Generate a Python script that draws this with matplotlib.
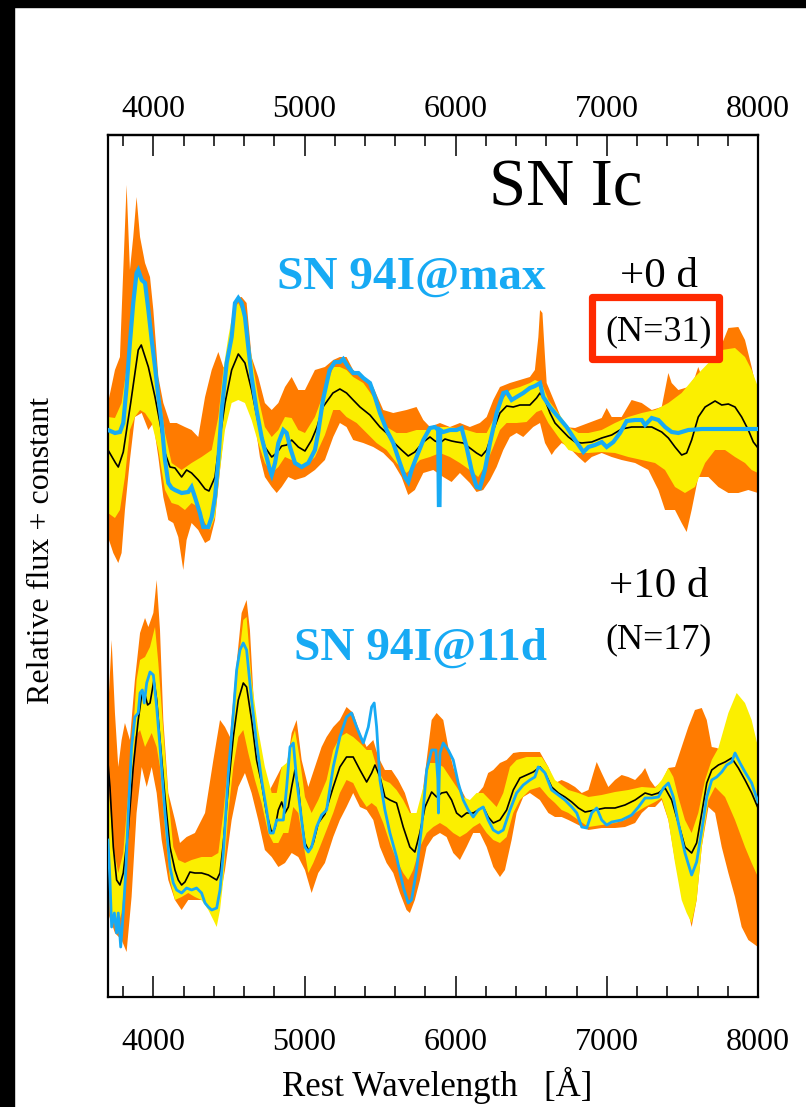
import numpy as np
import matplotlib
matplotlib.use("Agg")
import matplotlib.pyplot as plt
from matplotlib.patches import Rectangle
from matplotlib.ticker import MultipleLocator

plt.rcParams['font.family'] = ['Liberation Serif', 'DejaVu Serif']

# ---------------- data (wavelength [A], relative flux) ----------------
WAVE_RANGE = (3700, 8000)
TICK_VALUES = [4000, 5000, 6000, 7000, 8000]

# ---- +0 d panel ----
TOP_MEAN = [(3700,-0.20),(3750,-0.33),(3768,-0.37),(3801,-0.22),(3850,0.27),(3900,0.80),(3920,0.85),
 (3967,0.63),(4011,0.33),(4044,0.07),(4077,-0.23),(4110,-0.37),(4143,-0.38),(4187,-0.47),(4220,-0.40),
 (4253,-0.43),(4297,-0.50),(4342,-0.59),(4368,-0.61),(4408,-0.47),(4441,-0.07),(4474,0.27),(4518,0.60),
 (4562,0.76),(4606,0.67),(4650,0.40),(4694,0.07),(4738,-0.17),(4783,-0.27),(4816,-0.23),(4849,-0.16),
 (4882,-0.15),(4915,-0.10),(4959,-0.17),(5003,-0.21),(5047,-0.10),(5083,0.03),(5122,0.23),(5188,0.37),
 (5234,0.41),(5278,0.37),(5322,0.30),(5367,0.23),(5433,0.15),(5499,0.03),(5543,-0.03),(5587,-0.12),
 (5642,-0.20),(5686,-0.26),(5730,-0.22),(5786,-0.12),(5830,-0.07),(5863,-0.11),(5896,-0.13),(5929,-0.09),
 (5973,-0.11),(6006,-0.12),(6050,-0.13),(6094,-0.18),(6138,-0.23),(6171,-0.26),(6205,-0.20),(6249,0.00),
 (6293,0.17),(6337,0.24),(6381,0.23),(6425,0.25),(6491,0.25),(6535,0.32),(6558,0.37),(6591,0.30),
 (6624,0.17),(6657,0.07),(6701,0.00),(6746,-0.07),(6790,-0.12),(6834,-0.13),(6900,-0.12),(6966,-0.08),
 (7032,-0.05),(7098,0.01),(7164,0.03),(7231,0.03),(7297,0.03),(7363,-0.02),(7407,-0.08),(7451,-0.17),
 (7495,-0.25),(7528,-0.23),(7561,-0.10),(7605,0.13),(7650,0.23),(7716,0.29),(7760,0.25),(7804,0.26),
 (7848,0.23),(7892,0.13),(7936,0.00),(7969,-0.12),(8000,-0.18)]

TOP_SN94I = [(3700,0.00),(3746,-0.03),(3779,-0.02),(3801,0.07),(3823,0.43),(3845,0.87),(3867,1.27),
 (3889,1.57),(3900,1.60),(3923,1.50),(3945,1.47),(3967,1.20),(3989,0.90),(4011,0.63),(4033,0.33),
 (4055,0.07),(4077,-0.30),(4099,-0.53),(4121,-0.58),(4143,-0.60),(4187,-0.63),(4231,-0.62),(4253,-0.57),
 (4275,-0.67),(4308,-0.83),(4330,-0.97),(4364,-0.97),(4386,-0.87),(4408,-0.67),(4430,-0.30),(4452,0.20),
 (4485,0.67),(4518,0.93),(4540,1.27),(4562,1.32),(4584,1.27),(4606,1.13),(4628,0.83),(4650,0.53),
 (4683,0.20),(4716,-0.07),(4749,-0.27),(4771,-0.40),(4783,-0.45),(4805,-0.33),(4827,-0.13),(4860,0.00),
 (4882,-0.03),(4904,-0.17),(4937,-0.33),(4981,-0.37),(5025,-0.33),(5069,-0.20),(5090,-0.03),(5122,0.30),
 (5166,0.60),(5201,0.68),(5234,0.68),(5256,0.71),(5289,0.63),(5322,0.57),(5356,0.57),(5389,0.52),
 (5433,0.47),(5466,0.33),(5499,0.17),(5543,0.00),(5587,-0.13),(5631,-0.33),(5664,-0.47),(5686,-0.52),
 (5708,-0.40),(5741,-0.27),(5786,-0.10),(5830,0.02),(5863,0.03),(5884,0.00),(5889,-0.75),(5893,-0.75),
 (5898,0.00),(5918,-0.02),(5962,0.00),(6006,0.00),(6039,0.02),(6072,-0.17),(6105,-0.40),(6138,-0.57),
 (6160,-0.58),(6193,-0.40),(6227,-0.13),(6271,0.17),(6315,0.37),(6337,0.38),(6370,0.30),(6403,0.33),
 (6447,0.37),(6491,0.42),(6525,0.44),(6558,0.47),(6580,0.33),(6624,0.23),(6679,0.13),(6734,0.03),
 (6790,-0.10),(6845,-0.22),(6878,-0.17),(6922,-0.15),(6966,-0.12),(6999,-0.17),(7043,-0.12),(7087,-0.03),
 (7131,0.09),(7187,0.10),(7231,0.10),(7253,0.05),(7297,0.12),(7341,0.10),(7385,0.03),(7429,-0.02),
 (7473,-0.03),(7539,0.00),(7628,0.01),(8000,0.01)]

TOP_INNER_HI = [(3700,0.13),(3746,0.12),(3790,0.27),(3834,0.73),(3867,1.27),(3889,1.53),(3912,1.60),
 (3945,1.40),(3978,1.03),(4011,0.73),(4044,0.33),(4077,-0.03),(4121,-0.33),(4187,-0.40),(4253,-0.33),
 (4319,-0.27),(4386,-0.20),(4430,0.13),(4463,0.60),(4496,0.93),(4529,1.20),(4562,1.27),(4606,1.13),
 (4650,0.73),(4694,0.33),(4738,0.03),(4783,-0.07),(4827,0.00),(4871,0.13),(4915,0.12),(4959,0.00),
 (5003,-0.03),(5069,0.13),(5135,0.40),(5190,0.63),(5234,0.63),(5278,0.60),(5322,0.53),(5389,0.47),
 (5455,0.33),(5499,0.13),(5543,0.03),(5609,-0.03),(5675,-0.03),(5741,0.00),(5808,0.00),(5874,0.03),
 (5940,0.03),(6006,0.02),(6072,0.00),(6138,-0.03),(6205,-0.03),(6249,0.10),(6293,0.27),(6359,0.40),
 (6425,0.43),(6491,0.47),(6525,0.50),(6569,0.47),(6613,0.30),(6679,0.17),(6746,0.03),(6812,-0.03),
 (6878,-0.03),(6966,0.00),(7054,0.07),(7142,0.13),(7231,0.17),(7319,0.20),(7407,0.27),(7495,0.37),
 (7583,0.53),(7672,0.67),(7760,0.80),(7848,0.82),(7914,0.73),(7958,0.60),(8000,0.43)]

TOP_INNER_LO = [(3700,-0.83),(3746,-0.88),(3779,-0.80),(3812,-0.47),(3845,0.00),(3878,0.13),(3912,0.20),
 (3945,0.17),(3989,0.07),(4033,-0.20),(4077,-0.60),(4121,-0.73),(4165,-0.75),(4209,-0.80),(4253,-0.73),
 (4297,-0.77),(4342,-0.93),(4375,-1.00),(4408,-0.87),(4441,-0.40),(4474,0.00),(4518,0.27),(4562,0.30),
 (4606,0.27),(4650,0.10),(4694,-0.13),(4738,-0.33),(4783,-0.43),(4827,-0.37),(4871,-0.27),(4915,-0.30),
 (4959,-0.37),(5003,-0.37),(5069,-0.27),(5135,-0.05),(5190,0.20),(5234,0.20),(5278,0.13),(5345,0.07),
 (5411,-0.03),(5477,-0.13),(5543,-0.20),(5609,-0.33),(5675,-0.43),(5719,-0.37),(5764,-0.30),(5830,-0.27),
 (5896,-0.23),(5962,-0.27),(6028,-0.33),(6094,-0.40),(6149,-0.47),(6205,-0.33),(6249,-0.17),(6293,0.00),
 (6337,0.07),(6403,0.07),(6469,0.08),(6535,0.18),(6569,0.20),(6613,0.07),(6679,-0.07),(6746,-0.20),
 (6812,-0.23),(6878,-0.23),(6966,-0.22),(7054,-0.23),(7142,-0.27),(7231,-0.30),(7319,-0.33),(7385,-0.40),
 (7451,-0.57),(7517,-0.63),(7583,-0.57),(7650,-0.33),(7716,-0.20),(7782,-0.20),(7848,-0.27),(7914,-0.33),
 (7958,-0.40),(8000,-0.43)]

TOP_OUTER_HI = [(3700,0.27),(3746,0.60),(3779,0.73),(3801,1.60),(3823,2.45),(3845,1.60),(3867,1.93),
 (3889,2.33),(3912,1.93),(3945,1.67),(3978,1.53),(4000,1.20),(4033,0.53),(4066,0.27),(4110,0.07),
 (4154,0.07),(4209,0.03),(4253,0.00),(4297,-0.07),(4342,0.33),(4386,0.60),(4430,0.78),(4463,0.63),
 (4496,0.60),(4518,0.97),(4551,1.32),(4584,1.33),(4617,1.27),(4650,0.73),(4694,0.53),(4738,0.27),
 (4783,0.20),(4827,0.27),(4871,0.43),(4915,0.53),(4959,0.40),(5003,0.40),(5069,0.60),(5135,0.63),
 (5190,0.70),(5234,0.73),(5278,0.73),(5322,0.60),(5389,0.53),(5455,0.43),(5521,0.20),(5587,0.17),
 (5675,0.20),(5741,0.23),(5786,0.10),(5830,0.03),(5896,0.07),(5962,0.03),(6028,0.07),(6094,0.03),
 (6160,0.07),(6205,0.13),(6249,0.30),(6293,0.43),(6359,0.47),(6425,0.50),(6491,0.53),(6524,0.60),
 (6547,0.93),(6558,1.20),(6574,1.17),(6591,0.73),(6602,0.47),(6657,0.27),(6723,0.03),(6790,0.02),
 (6878,0.07),(6966,0.12),(6999,0.22),(7032,0.13),(7098,0.13),(7164,0.30),(7231,0.27),(7297,0.20),
 (7363,0.23),(7407,0.57),(7429,0.47),(7473,0.40),(7539,0.43),(7583,0.53),(7605,0.63),(7628,0.53),
 (7672,0.53),(7738,0.77),(7804,1.02),(7870,1.03),(7914,0.90),(7958,0.63),(8000,0.33)]

TOP_OUTER_LO = [(3700,-1.07),(3735,-1.23),(3768,-1.33),(3790,-1.23),(3812,-0.80),(3845,-0.30),(3878,0.13),
 (3923,0.17),(3967,0.00),(4000,0.07),(4033,-0.27),(4066,-0.67),(4099,-0.90),(4132,-0.93),(4165,-1.07),
 (4198,-1.40),(4220,-1.10),(4253,-0.93),(4297,-1.00),(4342,-1.13),(4375,-1.10),(4408,-0.90),(4441,-0.40),
 (4474,0.07),(4507,0.30),(4540,0.33),(4584,0.30),(4628,0.27),(4672,0.07),(4705,-0.27),(4738,-0.47),
 (4783,-0.57),(4816,-0.63),(4849,-0.57),(4893,-0.47),(4937,-0.50),(5003,-0.47),(5069,-0.40),(5135,-0.30),
 (5190,-0.07),(5234,0.07),(5278,0.03),(5322,-0.10),(5389,-0.13),(5455,-0.17),(5521,-0.23),(5587,-0.33),
 (5642,-0.47),(5686,-0.65),(5730,-0.60),(5786,-0.43),(5852,-0.40),(5918,-0.47),(5973,-0.52),(6028,-0.43),
 (6094,-0.53),(6138,-0.62),(6182,-0.60),(6227,-0.50),(6271,-0.37),(6315,-0.20),(6359,-0.07),(6403,-0.03),
 (6447,-0.07),(6513,0.03),(6558,0.07),(6591,-0.13),(6635,-0.25),(6657,-0.20),(6701,-0.13),(6746,-0.17),
 (6812,-0.27),(6856,-0.33),(6900,-0.27),(6966,-0.23),(7032,-0.27),(7098,-0.30),(7187,-0.33),(7275,-0.40),
 (7341,-0.60),(7385,-0.80),(7451,-0.80),(7495,-0.93),(7528,-1.02),(7561,-0.80),(7605,-0.47),(7672,-0.47),
 (7738,-0.57),(7804,-0.63),(7870,-0.63),(7936,-0.60),(8000,-0.63)]

# ---- +10 d panel ----
BOT_MEAN = [(3700,0.27),(3713,0.03),(3735,-0.57),(3757,-0.90),(3779,-0.95),(3801,-0.83),(3834,-0.40),
 (3867,0.23),(3900,0.70),(3923,0.95),(3945,0.95),(3962,0.85),(3978,0.87),(4004,1.10),(4022,0.90),
 (4044,0.50),(4077,-0.07),(4110,-0.57),(4143,-0.80),(4165,-0.90),(4187,-0.95),(4209,-0.92),(4242,-0.82),
 (4275,-0.83),(4319,-0.83),(4364,-0.85),(4397,-0.88),(4419,-0.90),(4441,-0.83),(4463,-0.53),(4496,0.03),
 (4529,0.53),(4562,0.90),(4595,1.07),(4617,1.03),(4650,0.70),(4683,0.30),(4716,0.07),(4749,-0.23),
 (4783,-0.43),(4805,-0.38),(4827,-0.20),(4849,-0.12),(4871,-0.23),(4893,-0.17),(4915,0.03),(4937,0.20),
 (4959,0.03),(4981,-0.30),(5003,-0.53),(5029,-0.61),(5058,-0.53),(5091,-0.33),(5135,-0.24),(5190,0.03),
 (5234,0.23),(5278,0.33),(5322,0.33),(5367,0.20),(5411,0.08),(5444,0.17),(5466,0.25),(5499,0.13),
 (5532,-0.07),(5565,-0.10),(5609,-0.13),(5653,-0.37),(5697,-0.57),(5730,-0.62),(5763,-0.43),(5797,-0.17),
 (5841,-0.02),(5874,-0.07),(5907,-0.03),(5940,-0.02),(5973,-0.10),(6006,-0.23),(6039,-0.27),(6072,-0.23),
 (6116,-0.23),(6149,-0.20),(6182,-0.17),(6215,-0.27),(6249,-0.33),(6293,-0.30),(6337,-0.20),(6381,0.00),
 (6425,0.12),(6469,0.15),(6513,0.18),(6558,0.23),(6591,0.17),(6635,0.03),(6679,-0.03),(6723,-0.07),
 (6768,-0.12),(6812,-0.18),(6856,-0.22),(6922,-0.20),(6988,-0.18),(7054,-0.18),(7120,-0.15),(7187,-0.10),
 (7253,-0.03),(7297,-0.05),(7341,-0.03),(7385,0.02),(7429,-0.10),(7473,-0.33),(7517,-0.57),(7561,-0.63),
 (7594,-0.53),(7628,-0.23),(7661,0.07),(7694,0.20),(7738,0.25),(7782,0.28),(7826,0.32),(7870,0.22),
 (7914,0.10),(7958,-0.03),(8000,-0.18)]

BOT_SN94I = [(3700,-0.50),(3713,-0.90),(3724,-1.37),(3742,-1.23),(3757,-1.43),(3768,-1.23),(3784,-1.57),
 (3801,-1.23),(3817,-0.83),(3834,-0.23),(3856,0.43),(3878,0.73),(3900,0.77),(3912,0.97),(3927,1.00),
 (3940,0.87),(3956,1.07),(3978,1.18),(4000,1.15),(4022,0.83),(4044,0.43),(4077,-0.23),(4110,-0.77),
 (4132,-0.93),(4154,-1.00),(4187,-1.03),(4220,-0.98),(4253,-1.00),(4286,-0.98),(4319,-1.03),(4342,-1.13),
 (4364,-1.17),(4386,-1.20),(4419,-1.18),(4441,-1.00),(4463,-0.63),(4496,0.17),(4529,0.77),(4551,1.20),
 (4573,1.40),(4595,1.47),(4617,1.40),(4650,0.90),(4683,0.47),(4716,0.10),(4749,-0.20),(4771,-0.43),
 (4793,-0.43),(4816,-0.30),(4838,-0.30),(4860,-0.30),(4882,0.03),(4904,0.43),(4926,0.47),(4948,0.10),
 (4981,-0.30),(5003,-0.57),(5025,-0.62),(5047,-0.57),(5080,-0.37),(5113,-0.25),(5146,-0.20),(5190,0.23),
 (5234,0.53),(5278,0.73),(5311,0.77),(5345,0.63),(5389,0.47),(5422,0.63),(5444,0.83),(5461,0.87),
 (5477,0.63),(5499,0.10),(5532,-0.20),(5565,-0.43),(5609,-0.67),(5653,-0.97),(5686,-1.13),(5708,-1.10),
 (5741,-0.80),(5775,-0.37),(5808,0.20),(5841,0.40),(5869,0.40),(5882,0.10),(5886,-0.23),(5891,0.10),
 (5896,0.37),(5918,0.47),(5951,0.40),(5984,0.30),(6017,0.07),(6050,-0.10),(6083,-0.20),(6116,-0.27),
 (6149,-0.20),(6182,-0.17),(6215,-0.30),(6249,-0.40),(6282,-0.43),(6315,-0.40),(6359,-0.20),(6403,-0.03),
 (6447,0.05),(6491,0.10),(6524,0.13),(6546,0.23),(6558,0.22),(6591,0.17),(6635,0.00),(6679,-0.05),
 (6723,-0.10),(6768,-0.17),(6801,-0.23),(6834,-0.37),(6867,-0.38),(6900,-0.23),(6933,-0.18),(6966,-0.30),
 (6999,-0.35),(7032,-0.32),(7098,-0.30),(7164,-0.25),(7209,-0.17),(7253,-0.08),(7297,-0.08),(7341,-0.07),
 (7374,0.02),(7407,0.07),(7440,-0.07),(7473,-0.33),(7517,-0.63),(7561,-0.85),(7594,-0.72),(7628,-0.40),
 (7661,-0.07),(7694,0.10),(7727,0.13),(7760,0.18),(7793,0.25),(7826,0.28),(7848,0.37),(7881,0.27),
 (7914,0.18),(7958,0.07),(8000,-0.12)]

BOT_INNER_HI = [(3700,0.10),(3735,-0.57),(3768,-0.83),(3801,-0.63),(3834,-0.03),(3867,0.60),(3889,1.10),
 (3912,1.30),(3945,1.33),(3978,1.43),(4011,1.63),(4033,1.27),(4066,0.60),(4099,-0.07),(4132,-0.57),
 (4165,-0.70),(4209,-0.73),(4253,-0.70),(4319,-0.67),(4386,-0.67),(4430,-0.63),(4463,-0.23),(4496,0.27),
 (4529,0.77),(4562,1.27),(4595,1.70),(4617,1.73),(4650,1.10),(4694,0.60),(4738,0.23),(4783,-0.03),
 (4816,-0.03),(4849,0.23),(4882,0.27),(4915,0.50),(4937,0.60),(4970,0.30),(5003,-0.07),(5047,-0.23),
 (5091,-0.10),(5146,0.10),(5190,0.40),(5234,0.53),(5278,0.57),(5322,0.53),(5367,0.47),(5411,0.40),
 (5444,0.40),(5477,0.23),(5521,0.10),(5565,0.07),(5609,0.00),(5653,-0.10),(5697,-0.23),(5741,-0.23),
 (5786,0.03),(5830,0.27),(5874,0.27),(5918,0.23),(5962,0.13),(6006,0.03),(6050,-0.07),(6094,-0.10),
 (6138,-0.03),(6182,-0.03),(6227,-0.10),(6271,-0.17),(6315,-0.03),(6359,0.23),(6403,0.30),(6469,0.33),
 (6535,0.33),(6569,0.33),(6613,0.23),(6657,0.10),(6701,0.05),(6746,0.00),(6812,-0.03),(6878,-0.07),
 (6966,-0.05),(7054,-0.02),(7142,0.00),(7231,0.03),(7319,0.02),(7363,0.10),(7407,0.22),(7440,0.13),
 (7473,-0.07),(7517,-0.30),(7561,-0.43),(7605,-0.23),(7650,0.10),(7694,0.30),(7738,0.42),(7804,0.77),
 (7859,0.97),(7914,0.87),(7958,0.70),(8000,0.43)]

BOT_INNER_LO = [(3700,-0.57),(3724,-1.23),(3757,-1.40),(3790,-1.23),(3812,-0.90),(3845,-0.23),(3878,0.53),
 (3912,0.60),(3945,0.43),(3989,0.57),(4022,0.43),(4044,0.23),(4077,-0.40),(4110,-0.90),(4143,-1.10),
 (4187,-1.07),(4231,-1.03),(4275,-1.07),(4319,-1.10),(4364,-1.20),(4397,-1.30),(4419,-1.37),(4441,-1.20),
 (4463,-0.90),(4496,-0.23),(4529,0.23),(4562,0.53),(4595,0.60),(4628,0.37),(4672,0.10),(4716,-0.13),
 (4760,-0.43),(4794,-0.53),(4827,-0.53),(4860,-0.43),(4893,-0.43),(4926,-0.17),(4959,-0.23),(4992,-0.53),
 (5025,-0.83),(5058,-0.73),(5102,-0.57),(5146,-0.40),(5190,-0.23),(5234,-0.03),(5278,0.10),(5322,0.07),
 (5367,-0.07),(5411,-0.17),(5444,-0.13),(5477,-0.17),(5521,-0.33),(5565,-0.53),(5609,-0.70),(5653,-0.83),
 (5686,-0.90),(5719,-0.80),(5764,-0.57),(5808,-0.43),(5852,-0.37),(5896,-0.33),(5940,-0.37),(5984,-0.43),
 (6028,-0.47),(6072,-0.43),(6116,-0.37),(6160,-0.33),(6205,-0.43),(6249,-0.50),(6293,-0.53),(6337,-0.47),
 (6381,-0.23),(6425,-0.10),(6491,0.00),(6557,0.03),(6613,-0.07),(6657,-0.13),(6701,-0.20),(6746,-0.23),
 (6812,-0.30),(6878,-0.37),(6966,-0.35),(7054,-0.33),(7120,-0.30),(7187,-0.23),(7253,-0.17),(7319,-0.12),
 (7363,-0.08),(7407,-0.30),(7451,-0.73),(7495,-1.10),(7528,-1.23),(7561,-1.33),(7594,-1.10),(7628,-0.57),
 (7672,-0.10),(7716,0.03),(7782,-0.07),(7848,-0.30),(7914,-0.57),(7958,-0.73),(8000,-0.87)]

BOT_OUTER_HI = [(3700,0.77),(3724,1.50),(3746,0.77),(3768,0.23),(3790,0.50),(3812,0.67),(3845,0.50),
 (3878,1.10),(3912,1.57),(3945,1.72),(3967,1.63),(4000,1.77),(4022,2.10),(4044,1.60),(4066,0.70),
 (4099,-0.03),(4143,-0.30),(4176,-0.53),(4220,-0.47),(4275,-0.43),(4342,-0.23),(4397,0.30),(4441,0.70),
 (4474,0.63),(4507,0.53),(4540,1.10),(4584,1.77),(4617,1.90),(4639,1.60),(4672,0.67),(4716,0.37),
 (4760,-0.03),(4805,0.10),(4849,0.23),(4882,0.23),(4915,0.57),(4948,0.70),(4981,0.30),(5025,0.03),
 (5069,0.23),(5113,0.43),(5146,0.53),(5190,0.63),(5234,0.70),(5278,0.83),(5322,0.77),(5367,0.57),
 (5411,0.43),(5455,0.50),(5488,0.33),(5532,0.20),(5576,0.20),(5620,0.10),(5664,-0.03),(5719,-0.30),
 (5764,-0.23),(5808,0.30),(5841,0.70),(5874,0.77),(5918,0.70),(5951,0.43),(5984,0.23),(6028,0.03),
 (6072,-0.10),(6116,-0.10),(6149,-0.03),(6182,0.03),(6215,0.17),(6249,0.20),(6293,0.27),(6337,0.30),
 (6381,0.37),(6425,0.38),(6557,0.38),(6613,0.23),(6657,0.07),(6701,0.10),(6746,0.07),(6790,0.03),
 (6834,-0.03),(6878,0.00),(6911,0.17),(6933,0.28),(6966,0.17),(7010,0.03),(7054,0.10),(7098,0.15),
 (7142,0.13),(7187,0.10),(7231,0.17),(7253,0.22),(7286,0.10),(7319,0.03),(7363,0.08),(7407,0.22),
 (7451,0.23),(7495,0.43),(7539,0.63),(7583,0.80),(7628,0.82),(7661,0.70),(7694,0.43),(7727,0.42),
 (7804,0.37),(7892,0.30),(8000,0.23)]

BOT_OUTER_LO = [(3700,-1.23),(3746,-1.43),(3790,-1.50),(3823,-1.62),(3856,-1.07),(3889,-0.23),(3923,0.23),
 (3956,0.03),(3989,0.23),(4022,-0.03),(4055,-0.50),(4099,-0.90),(4143,-1.10),(4187,-1.20),(4231,-1.10),
 (4275,-1.10),(4319,-1.10),(4364,-1.17),(4408,-1.23),(4441,-1.07),(4474,-0.80),(4518,-0.30),(4562,0.03),
 (4606,0.17),(4650,-0.03),(4694,-0.30),(4738,-0.60),(4783,-0.67),(4827,-0.77),(4871,-0.73),(4915,-0.63),
 (4959,-0.67),(5003,-0.80),(5047,-1.03),(5091,-0.83),(5135,-0.73),(5190,-0.47),(5234,-0.30),(5278,-0.17),
 (5322,-0.03),(5367,-0.17),(5411,-0.20),(5455,-0.30),(5499,-0.57),(5543,-0.73),(5587,-0.83),(5631,-1.03),
 (5675,-1.20),(5697,-1.23),(5730,-1.10),(5764,-0.90),(5808,-0.57),(5852,-0.47),(5896,-0.43),(5940,-0.47),
 (5984,-0.63),(6028,-0.70),(6072,-0.57),(6116,-0.43),(6160,-0.43),(6205,-0.57),(6249,-0.77),(6293,-0.87),
 (6326,-0.80),(6370,-0.50),(6403,-0.23),(6447,-0.07),(6491,-0.03),(6557,-0.10),(6613,-0.23),(6657,-0.27),
 (6701,-0.27),(6746,-0.30),(6812,-0.35),(6878,-0.40),(6966,-0.38),(7054,-0.38),(7120,-0.37),(7187,-0.33),
 (7231,-0.23),(7275,-0.17),(7319,-0.17),(7363,-0.10),(7407,-0.30),(7451,-0.70),(7484,-0.90),(7517,-1.07),
 (7561,-1.37),(7594,-1.10),(7628,-0.57),(7672,-0.17),(7716,-0.23),(7760,-0.57),(7804,-0.83),(7848,-1.07),
 (7892,-1.37),(7936,-1.50),(8000,-1.57)]

TOP_OFFSET = 5.67   # "+ constant" for the +0 d stack
BOT_OFFSET = 2.07   # "+ constant" for the +10 d stack

PANEL_LABELS = [("+0 d", "(N=31)", "SN 94I@max"), ("+10 d", "(N=17)", "SN 94I@11d")]

# ---------------- styling ----------------
ORANGE = '#ff7b00'
YELLOW = '#fbef00'
BLUE = '#17aaf4'
RED = '#ff2a00'

W, H = 806, 1107
fig = plt.figure(figsize=(W/100, H/100), dpi=100)
fig.patch.set_facecolor('white')
ax = fig.add_axes([108/W, 1-997/H, 650/W, 862/H])


def arr(pairs):
    a = np.array(pairs, dtype=float)
    return a[:, 0], a[:, 1]


def band(hi, lo, off, color):
    wh, fh = arr(hi)
    wl, fl = arr(lo)
    ax.fill(np.concatenate([wh, wl[::-1]]), np.concatenate([fh, fl[::-1]]) + off,
            color=color, lw=0, zorder=1)


for hi, lo, off in [(TOP_OUTER_HI, TOP_OUTER_LO, TOP_OFFSET), (BOT_OUTER_HI, BOT_OUTER_LO, BOT_OFFSET)]:
    band(hi, lo, off, ORANGE)
for hi, lo, off in [(TOP_INNER_HI, TOP_INNER_LO, TOP_OFFSET), (BOT_INNER_HI, BOT_INNER_LO, BOT_OFFSET)]:
    band(hi, lo, off, YELLOW)

w, f = arr(TOP_MEAN)
ax.plot(w, f + TOP_OFFSET, color='black', lw=1.2, zorder=3)
w, f = arr(BOT_MEAN)
ax.plot(w, f + BOT_OFFSET, color='black', lw=1.2, zorder=3)
w, f = arr(TOP_SN94I)
ax.plot(w, f + TOP_OFFSET, color=BLUE, lw=3.0, zorder=4, solid_joinstyle='miter')
w, f = arr(BOT_SN94I)
ax.plot(w, f + BOT_OFFSET, color=BLUE, lw=2.0, zorder=4)

ax.set_xlim(*WAVE_RANGE)
ax.set_ylim(0, 8.62)
ax.set_xticks(TICK_VALUES)
ax.xaxis.set_minor_locator(MultipleLocator(200))
ax.tick_params(axis='x', which='both', direction='in', top=False, bottom=True,
               labelsize=23, pad=22, width=1.1)
ax.tick_params(axis='x', which='major', length=15)
ax.tick_params(axis='x', which='minor', length=8)
ax.tick_params(axis='y', left=False, right=False, labelleft=False)
for s in ax.spines.values():
    s.set_linewidth(1.6)

sec = ax.secondary_xaxis('top')
sec.set_xticks(TICK_VALUES)
sec.xaxis.set_minor_locator(MultipleLocator(200))
sec.tick_params(axis='x', which='both', direction='in', labelsize=23, pad=8, width=1.1)
sec.tick_params(axis='x', which='major', length=15)
sec.tick_params(axis='x', which='minor', length=8)
sec.spines['top'].set_linewidth(1.6)

# axis labels
fig.text(437/W, 1-1085/H, 'Rest Wavelength   [Å]', fontsize=25, ha='center', va='center')
fig.text(42/W, 1-550/H, 'Relative flux + constant', fontsize=23, rotation=90,
         ha='center', va='center')

# annotations
fig.text(566/W, 1-206/H, 'SN Ic', fontsize=48, ha='center', va='baseline')
fig.text(411/W, 1-289/H, PANEL_LABELS[0][2], fontsize=34, fontweight='bold', color=BLUE,
         ha='center', va='baseline')
fig.text(420/W, 1-660/H, PANEL_LABELS[1][2], fontsize=34, fontweight='bold', color=BLUE,
         ha='center', va='baseline')
fig.text(659/W, 1-287/H, PANEL_LABELS[0][0], fontsize=31, ha='center', va='baseline')
fig.text(659/W, 1-340/H, PANEL_LABELS[0][1], fontsize=26, ha='center', va='baseline')
fig.text(659/W, 1-597/H, PANEL_LABELS[1][0], fontsize=31, ha='center', va='baseline')
fig.text(659/W, 1-648/H, PANEL_LABELS[1][1], fontsize=26, ha='center', va='baseline')

fig.patches.append(Rectangle((592/W, 1-359/H), 127/W, 62/H, transform=fig.transFigure,
                             fill=False, edgecolor=RED, lw=5.2, joinstyle='round', zorder=10))

# black frame strips (left and top)
fig.patches.append(Rectangle((0, 0), 14/W, 1, transform=fig.transFigure, color='black', zorder=0))
fig.patches.append(Rectangle((0, 1-7/H), 1, 7/H, transform=fig.transFigure, color='black', zorder=0))

fig.savefig('out.png', dpi=100)
